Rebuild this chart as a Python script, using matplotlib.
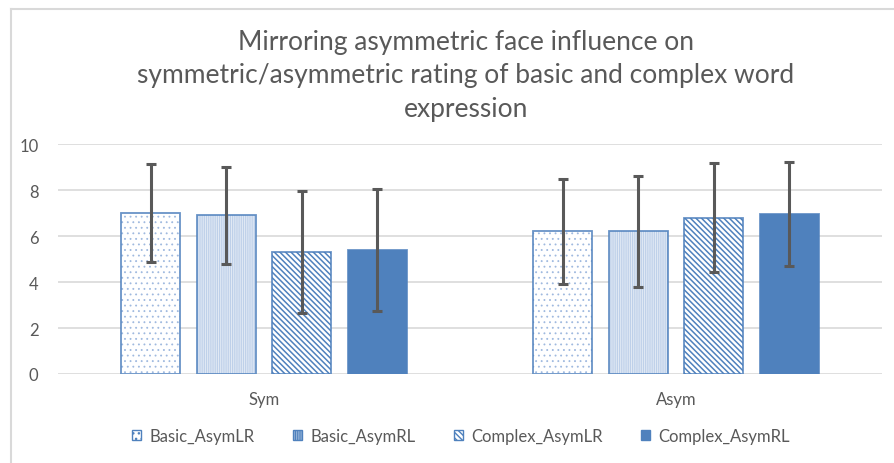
import matplotlib
matplotlib.use("Agg")
import matplotlib.pyplot as plt
from matplotlib.lines import Line2D
from matplotlib.patches import Patch
import numpy as np

plt.rcParams['font.family'] = ['Lato', 'DejaVu Sans']
plt.rcParams['hatch.linewidth'] = 1.0

# data
categories = ["Sym", "Asym"]
series_names = ["Basic_AsymLR", "Basic_AsymRL", "Complex_AsymLR", "Complex_AsymRL"]
means = {
    "Basic_AsymLR": [7.0, 6.2],
    "Basic_AsymRL": [6.9, 6.2],
    "Complex_AsymLR": [5.3, 6.8],
    "Complex_AsymRL": [5.4, 6.95],
}
errors = {
    "Basic_AsymLR": [2.12, 2.28],
    "Basic_AsymRL": [2.1, 2.4],
    "Complex_AsymLR": [2.65, 2.36],
    "Complex_AsymRL": [2.65, 2.25],
}
y_ticks = [0, 2, 4, 6, 8, 10]
title = ("Mirroring asymmetric face influence on\n"
         "symmetric/asymmetric rating of basic and complex word\n"
         "expression")

BLUE = "#4f81bd"
GREY_TXT = "#595959"
GRID = "#d9d9d9"

# fill style per series: face, hatch, hatch colour, hatch line width
styles = {
    "Basic_AsymLR": ("white", "...", "#9fb9df", 0.6),
    "Basic_AsymRL": ("#e2eaf5", "|" * 9, "#b7cbe7", 0.6),
    "Complex_AsymLR": ("white", "\\" * 6, BLUE, 1.1),
    "Complex_AsymRL": (BLUE, None, BLUE, 1.0),
}

fig = plt.figure(figsize=(8.94, 4.64), dpi=100)
ax = fig.add_axes([58 / 894, 1 - 375 / 464, 824 / 894, 230 / 464])

x = np.arange(len(categories))
width = 0.143
step = 0.183

for k, name in enumerate(series_names):
    pos = x + (k - 1.5) * step
    face, hatch, hcol, hlw = styles[name]
    with plt.rc_context({'hatch.linewidth': hlw}):
        ax.bar(pos, means[name], width, color=face, hatch=hatch, edgecolor=hcol,
               linewidth=0, zorder=2)
    ax.bar(pos, means[name], width, fill=False, edgecolor=BLUE, linewidth=1.3,
           zorder=3, alpha=0.85)
    ax.errorbar(pos, means[name], yerr=errors[name], fmt="none", ecolor=GREY_TXT,
                elinewidth=2.2, capsize=3.5, capthick=2.2, zorder=4)

ax.set_xlim(-0.5, 1.5)
ax.set_ylim(0, 10)
ax.set_yticks(y_ticks)
ax.set_xticks(x)
ax.set_xticklabels(categories)
ax.yaxis.grid(True, color=GRID, linewidth=1.2, zorder=0)
ax.set_axisbelow(True)
for s in ax.spines.values():
    s.set_visible(False)
ax.tick_params(axis="both", length=0, labelcolor=GREY_TXT, labelsize=12)
ax.tick_params(axis="y", pad=14)
ax.tick_params(axis="x", pad=12)

fig.text(466 / 894, 1 - 76 / 464, title, ha="center", va="center",
         fontsize=19, color=GREY_TXT, linespacing=1.42)

handles = []
for n in series_names:
    with plt.rc_context({'hatch.linewidth': styles[n][3]}):
        handles.append(Patch(facecolor=styles[n][0], hatch=styles[n][1],
                             edgecolor=BLUE, linewidth=1.0))
fig.legend(handles, series_names, loc="center", bbox_to_anchor=(461 / 894, 1 - 437 / 464),
           ncol=4, frameon=False, fontsize=12, handlelength=0.55, handleheight=0.55,
           handletextpad=0.5, columnspacing=2.3, labelcolor=GREY_TXT)

# chart border (cropped on right and bottom)
fig.add_artist(Line2D([11 / 894, 11 / 894], [0, 1 - 10 / 464], transform=fig.transFigure,
                      color=GRID, linewidth=1.5))
fig.add_artist(Line2D([11 / 894, 1], [1 - 10 / 464, 1 - 10 / 464], transform=fig.transFigure,
                      color=GRID, linewidth=1.5))

fig.savefig("out.png", dpi=100)
